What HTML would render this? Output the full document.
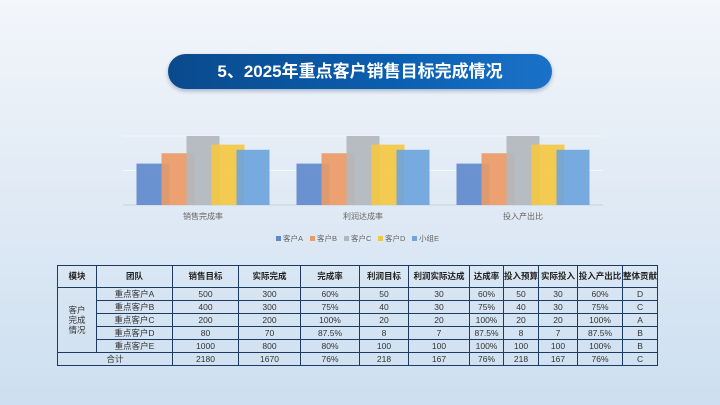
<!DOCTYPE html>
<html><head><meta charset="utf-8"><style>
html,body{margin:0;padding:0}
body{width:720px;height:405px;overflow:hidden;position:relative;font-family:"Liberation Sans","Noto Sans CJK SC",sans-serif;background:linear-gradient(180deg,#f3f6fa 0%,#e3ecf6 40%,#cddff0 100%)}
#banner{position:absolute;left:168px;top:54px;width:384px;height:35px;border-radius:18px;background:linear-gradient(90deg,#0a4a8c,#0b5fb0 60%,#1a72c8);color:#fff;font-weight:bold;font-size:17px;line-height:35px;text-align:center;box-shadow:0 2px 4px rgba(0,40,90,.3)}
table{position:absolute;left:57px;top:265px;border-collapse:collapse;font-size:8.5px;color:#333;table-layout:fixed}
td,th{border:1px solid #1d3a63;text-align:center;padding:0;height:12px;line-height:11px;overflow:hidden;white-space:nowrap}
th{height:21px;font-weight:bold;color:#222}
</style></head><body>
<div id="banner">5、2025年重点客户销售目标完成情况</div>
<svg id="chart" width="720" height="260" style="position:absolute;left:0;top:0"></svg>
<table>
<colgroup><col style="width:39px"><col style="width:76px"><col style="width:66px"><col style="width:62px"><col style="width:59px"><col style="width:49px"><col style="width:61px"><col style="width:34px"><col style="width:35px"><col style="width:39px"><col style="width:45px"><col style="width:33px"></colgroup>
<tr><th>模块</th><th>团队</th><th>销售目标</th><th>实际完成</th><th>完成率</th><th>利润目标</th><th>利润实际达成</th><th>达成率</th><th>投入预算</th><th>实际投入</th><th>投入产出比</th><th>整体贡献</th></tr>
<tr><td rowspan="5" style="line-height:10px">客户<br>完成<br>情况</td><td>重点客户A</td><td>500</td><td>300</td><td>60%</td><td>50</td><td>30</td><td>60%</td><td>50</td><td>30</td><td>60%</td><td>D</td></tr>
<tr><td>重点客户B</td><td>400</td><td>300</td><td>75%</td><td>40</td><td>30</td><td>75%</td><td>40</td><td>30</td><td>75%</td><td>C</td></tr>
<tr><td>重点客户C</td><td>200</td><td>200</td><td>100%</td><td>20</td><td>20</td><td>100%</td><td>20</td><td>20</td><td>100%</td><td>A</td></tr>
<tr><td>重点客户D</td><td>80</td><td>70</td><td>87.5%</td><td>8</td><td>7</td><td>87.5%</td><td>8</td><td>7</td><td>87.5%</td><td>B</td></tr>
<tr><td>重点客户E</td><td>1000</td><td>800</td><td>80%</td><td>100</td><td>100</td><td>100%</td><td>100</td><td>100</td><td>100%</td><td>B</td></tr>
<tr><td colspan="2">合计</td><td>2180</td><td>1670</td><td>76%</td><td>218</td><td>167</td><td>76%</td><td>218</td><td>167</td><td>76%</td><td>C</td></tr>
</table>
<script>
const categories=["销售完成率","利润达成率","投入产出比"];
const seriesNames=["客户A","客户B","客户C","客户D","小组E"];
const sA=[60,60,60];
const sB=[75,75,75];
const sC=[100,100,100];
const sD=[87.5,87.5,87.5];
const sE=[80,80,80];
const series=[sA,sB,sC,sD,sE];
const colors=["#5f89cc","#eb9a66","#b3b7bd","#f4c842","#6ea5dc"];
const NS="http://www.w3.org/2000/svg";
const svg=document.getElementById('chart');
const x0=123,x1=603,base=205,top100=136;
const y=v=>base-(base-top100)*v/100;
const gw=(x1-x0)/categories.length;
function mk(t,a){const e=document.createElementNS(NS,t);for(const k in a)e.setAttribute(k,a[k]);svg.appendChild(e);return e;}
[0,50,100].forEach(v=>{const l=mk('line',{x1:x0,x2:x1,y1:y(v),y2:y(v),stroke:v?'#f4f7fb':'#c9d3de','stroke-width':1});

});
categories.forEach((c,i)=>{
 const cx=x0+gw*(i+0.5);const bw=33,step=25;const start=cx-(4*step+bw)/2;
 series.forEach((s,j)=>{const r=mk('rect',{x:start+j*step,y:y(s[i]),width:bw,height:base-y(s[i]),fill:colors[j],opacity:0.92});
 
 });
 const t=mk('text',{x:cx,y:219,'text-anchor':'middle','font-size':8,fill:'#666'});t.textContent=c;
 
 
});
let lx=276;
seriesNames.forEach((n,j)=>{
 const r=mk('rect',{x:lx,y:236,width:5,height:5,fill:colors[j]});
 
 
 const t=mk('text',{x:lx+7,y:241,'font-size':7.5,fill:'#666'});t.textContent=n;
 
 
 lx+=34;
});
</script>
</body></html>
